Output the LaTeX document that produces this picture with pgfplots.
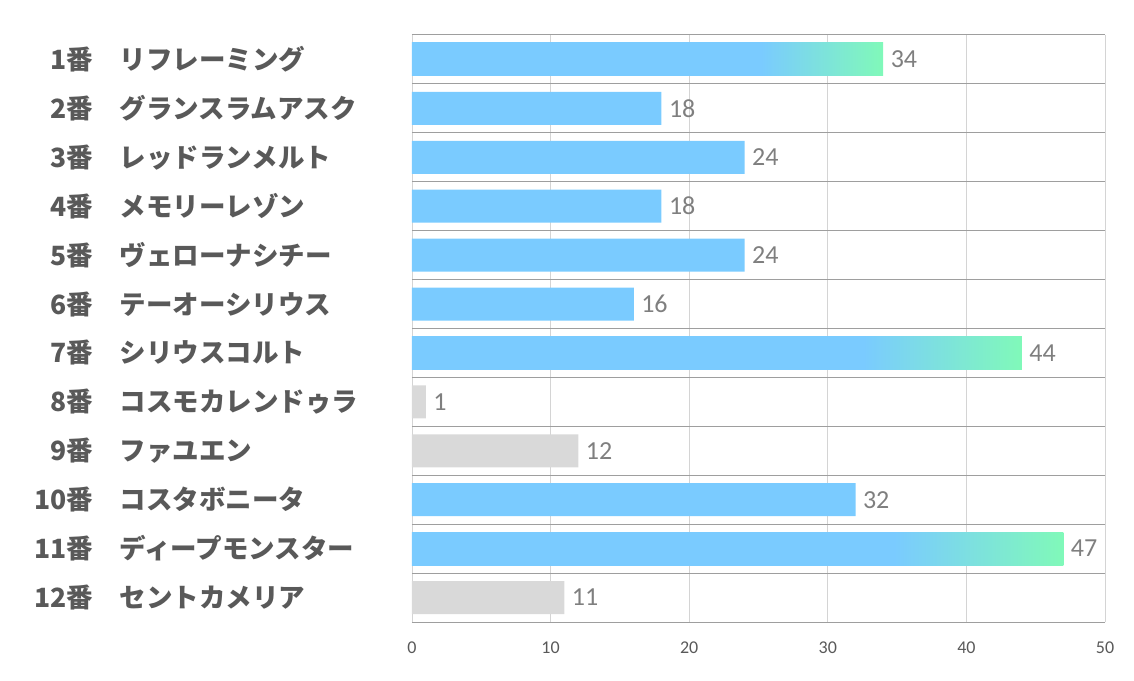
\documentclass[border=0pt]{standalone}
\usepackage{pgfplots}
\pgfplotsset{compat=1.18}
\usepackage{fontspec}
\setmainfont{Carlito}
\newfontfamily\jp{Noto Sans CJK JP}
\definecolor{barblue}{HTML}{7ACBFF}
\definecolor{bargreen}{HTML}{80F9B9}
\definecolor{bargray}{HTML}{D9D9D9}
\definecolor{labgray}{HTML}{595959}
\definecolor{valgray}{HTML}{7F7F7F}
\pgfdeclarehorizontalshading{bargrad}{100bp}{color(0bp)=(barblue); color(25bp)=(barblue); color(62bp)=(barblue); color(75bp)=(bargreen); color(100bp)=(bargreen)}
\newcommand{\lab}[2]{\makebox[0pt][r]{#1番}\hspace{27pt}\makebox[292pt][l]{#2}}
\begin{document}
\begin{tikzpicture}
\begin{axis}[
  width=693pt, height=587pt, scale only axis,
  xmin=0, xmax=50, ymin=-0.5, ymax=11.5,
  xtick={0,10,...,50},
  ytick={0,...,11},
  yticklabels={
    {\lab{12}{セントカメリア}},
    {\lab{11}{ディープモンスター}},
    {\lab{10}{コスタボニータ}},
    {\lab{9}{ファユエン}},
    {\lab{8}{コスモカレンドゥラ}},
    {\lab{7}{シリウスコルト}},
    {\lab{6}{テーオーシリウス}},
    {\lab{5}{ヴェローナシチー}},
    {\lab{4}{メモリーレゾン}},
    {\lab{3}{レッドランメルト}},
    {\lab{2}{グランスラムアスク}},
    {\lab{1}{リフレーミング}}},
  minor ytick={-0.5,0.5,...,11.5},
  yminorgrids, xmajorgrids,
  minor grid style={draw=black!38, line width=1pt},
  major grid style={draw=black!17, line width=0.9pt},
  axis line style={draw=none},
  major tick length=0pt, minor tick length=0pt,
  yticklabel style={font=\jp\bfseries\fontsize{26.5}{30}\selectfont, text=labgray, anchor=east, inner sep=0pt},
  xticklabel style={font=\fontsize{18}{21}\selectfont, text=labgray, yshift=-16pt},
  /pgf/number format/assume math mode=true,
  xbar, bar width=0.675, bar shift=0pt,
  nodes near coords,
  nodes near coords style={font=\fontsize{26}{30}\selectfont, text=valgray, anchor=west, xshift=4pt},
  clip=false,
]
\addplot[draw=none, fill=barblue] coordinates {(18,10) (24,9) (18,8) (24,7) (16,6) (32,2)};
\addplot[draw=none, shading=bargrad] coordinates {(34,11)};
\addplot[draw=none, shading=bargrad] coordinates {(44,5)};
\addplot[draw=none, shading=bargrad] coordinates {(47,1)};
\addplot[draw=none, fill=bargray] coordinates {(1,4) (12,3) (11,0)};
\coordinate (O) at (rel axis cs:0,0);
\end{axis}
\pgfresetboundingbox
\path ([shift={(-412pt,-58pt)}]O) rectangle ([shift={(722pt,622pt)}]O);
\end{tikzpicture}
\end{document}
